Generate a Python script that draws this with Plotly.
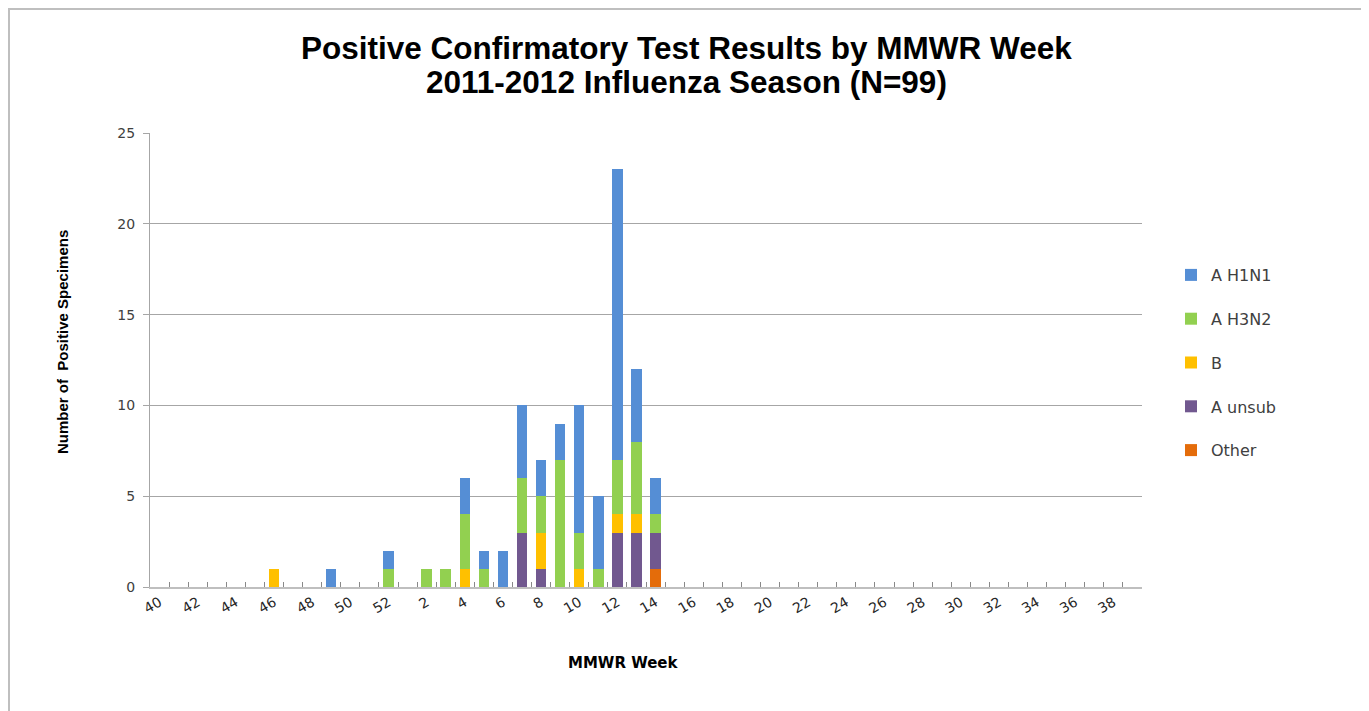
import plotly.graph_objects as go

weeks = [str(w) for w in list(range(40, 53)) + list(range(1, 40))]
tick_labels = [w if i % 2 == 0 else "" for i, w in enumerate(weeks)]

def series(d):
    return [d.get(w, 0) for w in weeks]

other   = series({"14": 1})
a_unsub = series({"7": 3, "8": 1, "12": 3, "13": 3, "14": 2})
b       = series({"46": 1, "4": 1, "8": 2, "10": 1, "12": 1, "13": 1})
a_h3n2  = series({"52": 1, "2": 1, "3": 1, "4": 3, "5": 1, "7": 3, "8": 2, "9": 7,
                  "10": 2, "11": 1, "12": 3, "13": 4, "14": 1})
a_h1n1  = series({"49": 1, "52": 1, "4": 2, "5": 1, "6": 2, "7": 4, "8": 2, "9": 2,
                  "10": 7, "11": 4, "12": 16, "13": 4, "14": 2})

title_lines = ["Positive Confirmatory Test Results by MMWR Week",
               "2011-2012 Influenza Season (N=99)"]

# bottom-to-top stacking order, with legend rank (top of legend first)
stack = [
    ("Other", other, "#E46C0A", 5),
    ("A unsub", a_unsub, "#71588F", 4),
    ("B", b, "#FFC000", 3),
    ("A H3N2", a_h3n2, "#92D050", 2),
    ("A H1N1", a_h1n1, "#558ED5", 1),
]

fig = go.Figure()
for name, vals, color, rank in stack:
    fig.add_trace(go.Bar(x=weeks, y=vals, name=name, marker_color=color,
                         marker_line_width=0, legendgroup=name, legendrank=rank))

OFF = 8  # page body margin
WIN_W, WIN_H = 1369, 711
W, H = WIN_W - OFF, WIN_H - OFF
# plot area in window pixels
L, R, T, B = 150, 1142, 133, 587

def px2paper_x(p):
    return (p - L) / (R - L)

def px2paper_y(p):
    return (B - p) / (B - T)

tick_font = dict(family="DejaVu Sans, Verdana", size=14, color="#404040")

fig.update_layout(
    width=W, height=H,
    barmode="stack", bargap=0.45,
    plot_bgcolor="white", paper_bgcolor="white",
    margin=dict(l=L - OFF, r=W - (R - OFF), t=T - OFF, b=H - (B - OFF), pad=0),
    legend=dict(
        traceorder="grouped", tracegroupgap=20,
        x=px2paper_x(1171), xanchor="left", y=px2paper_y(258), yanchor="top",
        font=dict(family="DejaVu Sans, Verdana", size=16, color="#404040"),
        itemwidth=30, bgcolor="rgba(0,0,0,0)",
    ),
    xaxis=dict(
        type="category", tickmode="array", tickvals=weeks, ticktext=tick_labels,
        tickson="boundaries", ticks="inside", ticklen=5, tickcolor="#898989",
        showline=True, linecolor="#BFBFBF", linewidth=2, showgrid=False,
        tickangle=-30, tickfont=dict(family="DejaVu Sans, Verdana", size=14, color="#262626"),
        range=[-0.5, len(weeks) - 0.5],
    ),
    yaxis=dict(
        range=[0, 25], dtick=5, tick0=0,
        showline=True, linecolor="#A6A6A6", linewidth=1,
        showgrid=True, gridcolor="#A6A6A6", gridwidth=1,
        ticks="outside", ticklen=6, tickcolor="#A6A6A6", ticklabelstandoff=5,
        tickfont=tick_font, zeroline=False,
    ),
    annotations=[
        dict(text="<b>%s</b>" % title_lines[0], xref="paper", yref="paper",
             x=px2paper_x(686), y=px2paper_y(48), xanchor="center", yanchor="middle",
             showarrow=False,
             font=dict(family="Liberation Sans, Arial", size=31.5, color="black")),
        dict(text="<b>%s</b>" % title_lines[1], xref="paper", yref="paper",
             x=px2paper_x(686), y=px2paper_y(82), xanchor="center", yanchor="middle",
             showarrow=False,
             font=dict(family="Liberation Sans, Arial", size=31.5, color="black")),
        dict(text="<b>Number of  Positive Specimens</b>", xref="paper", yref="paper",
             x=px2paper_x(62), y=px2paper_y(342), xanchor="center", yanchor="middle",
             textangle=-90, showarrow=False,
             font=dict(family="Liberation Sans, Arial", size=15, color="black")),
        dict(text="<b>MMWR Week</b>", xref="paper", yref="paper",
             x=px2paper_x(623), y=px2paper_y(663), xanchor="center", yanchor="middle",
             showarrow=False,
             font=dict(family="DejaVu Sans, Verdana", size=15, color="black")),
    ],
    shapes=[dict(type="rect", xref="paper", yref="paper",
                 x0=px2paper_x(9), x1=px2paper_x(1364),
                 y0=px2paper_y(720), y1=px2paper_y(9),
                 line=dict(color="#BFBFBF", width=2), fillcolor="rgba(0,0,0,0)", layer="below")],
)

fig.write_html("out.html")
